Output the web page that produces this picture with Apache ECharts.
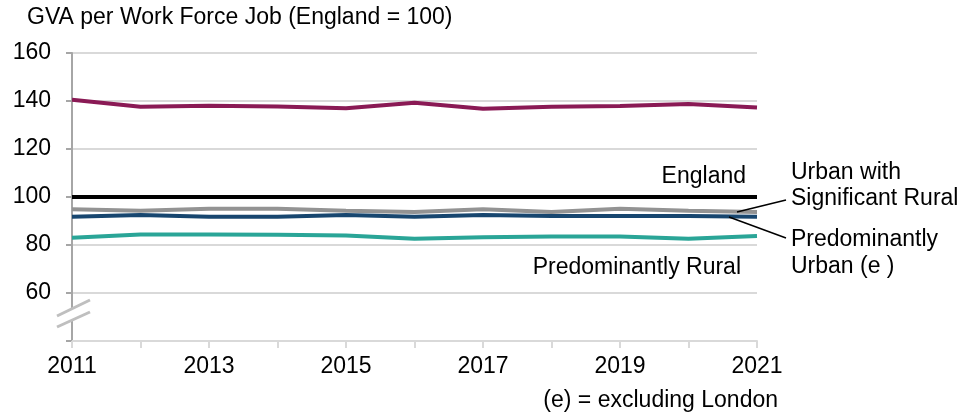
<!DOCTYPE html>
<html>
<head>
<meta charset="utf-8">
<script src="https://cdn.jsdelivr.net/npm/echarts@6/dist/echarts.min.js"></script>
<style>html,body{margin:0;padding:0;background:#fff}#c{width:961px;height:413px}</style>
</head>
<body>
<div id="c"></div>
<script>
const years = ['2011','2012','2013','2014','2015','2016','2017','2018','2019','2020','2021'];
const unlabeled = [140.5, 137.6, 138.0, 137.7, 137.0, 139.3, 136.8, 137.6, 137.9, 138.7, 137.3];
const england = [100, 100, 100, 100, 100, 100, 100, 100, 100, 100, 100];
const urbanSigRural = [94.9, 94.3, 95.1, 95.1, 94.3, 93.8, 94.9, 93.8, 95.1, 94.3, 93.8];
const predUrban = [91.8, 92.5, 91.8, 91.8, 92.5, 91.8, 92.5, 92.1, 92.1, 92.1, 91.8];
const predRural = [83.0, 84.4, 84.4, 84.3, 84.0, 82.6, 83.2, 83.5, 83.5, 82.6, 83.8];
const yTicks = [40, 60, 80, 100, 120, 140, 160];

const FONT = '"Liberation Sans", Arial, sans-serif';
const FS = 23;
const chart = echarts.init(document.getElementById('c'), null, {renderer: 'canvas'});
const mk = (name, data, color, z) => ({
  name, type: 'line', data, symbol: 'none', smooth: false, z,
  lineStyle: {color, width: 4}, itemStyle: {color}
});
const txt = (x, y, text, align) => ({
  type: 'text', x, y, z: 100,
  style: {text, font: FS + 'px ' + FONT, fill: '#000', align: align || 'left', verticalAlign: 'middle'}
});
chart.setOption({
  animation: false,
  grid: {left: 72, right: 204, top: 53, bottom: 72},
  xAxis: {
    type: 'category', data: years, boundaryGap: false,
    axisLine: {lineStyle: {color: '#d9d9d9', width: 2}},
    axisTick: {interval: 0, length: 7, lineStyle: {color: '#d9d9d9', width: 2}},
    axisLabel: {interval: 1, margin: 14, fontSize: FS, fontFamily: FONT, color: '#000'},
    splitLine: {show: false}
  },
  yAxis: {
    type: 'value', min: yTicks[0], max: yTicks[yTicks.length - 1], interval: 20,
    axisLine: {show: true, lineStyle: {color: '#a6a6a6', width: 2}},
    axisTick: {show: true, length: 6, lineStyle: {color: '#a6a6a6', width: 2}},
    axisLabel: {margin: 21, fontSize: FS, fontFamily: FONT, color: '#000',
      formatter: v => (v === yTicks[0] ? '' : String(v))},
    splitLine: {lineStyle: {color: '#d9d9d9', width: 2}}
  },
  series: [
    mk('Unlabeled', unlabeled, '#8a1a55', 2),
    mk('England', england, '#000000', 3),
    mk('Urban with Significant Rural', urbanSigRural, '#939393', 2),
    mk('Predominantly Urban (e)', predUrban, '#17466f', 3),
    mk('Predominantly Rural', predRural, '#2aa597', 2)
  ],
  graphic: [
    {type: 'text', x: 27, y: 18, style: {text: 'GVA per Work Force Job (England = 100)', font: FS + 'px ' + FONT, fill: '#000', verticalAlign: 'middle'}},
    {type: 'polygon', z: 90, shape: {points: [[57,316],[90,300],[90,312],[57,327]]}, style: {fill: '#fff'}},
    {type: 'line', z: 91, shape: {x1: 57, y1: 316, x2: 90, y2: 300}, style: {stroke: '#bfbfbf', lineWidth: 3}},
    {type: 'line', z: 91, shape: {x1: 57, y1: 327, x2: 90, y2: 312}, style: {stroke: '#bfbfbf', lineWidth: 3}},
    txt(746, 177, 'England', 'right'),
    txt(791, 173, 'Urban with'),
    txt(791, 199, 'Significant Rural'),
    txt(791, 240, 'Predominantly'),
    txt(791, 267, 'Urban (e )'),
    txt(741, 268, 'Predominantly Rural', 'right'),
    txt(778, 401, '(e) = excluding London', 'right'),
    {type: 'line', z: 95, shape: {x1: 737, y1: 212, x2: 786, y2: 200}, style: {stroke: '#000', lineWidth: 1.5}},
    {type: 'line', z: 95, shape: {x1: 729, y1: 217, x2: 786, y2: 238}, style: {stroke: '#000', lineWidth: 1.5}}
  ]
});
</script>
</body>
</html>
